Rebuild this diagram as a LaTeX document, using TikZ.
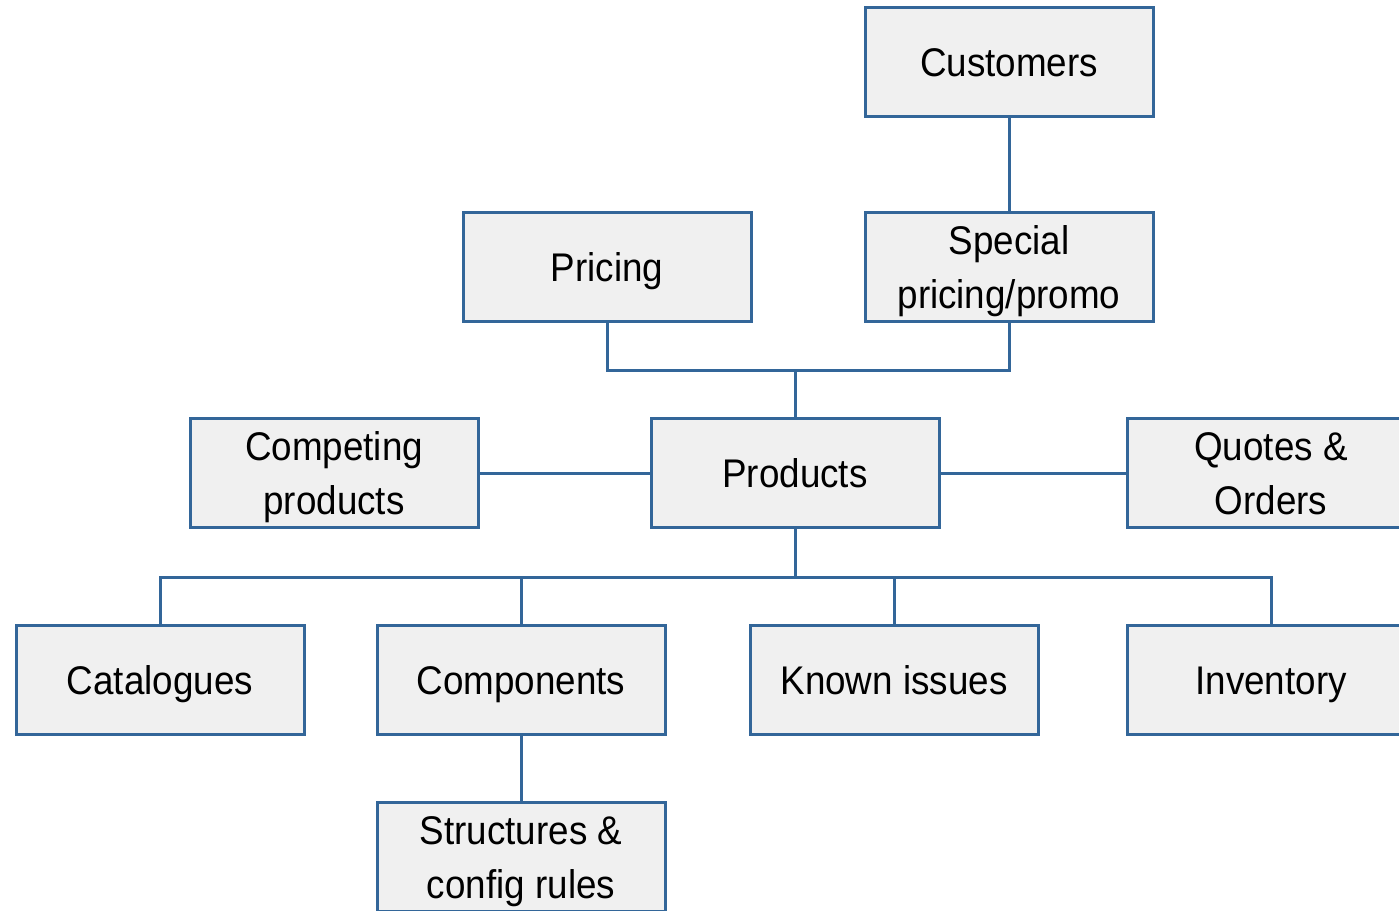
\documentclass[tikz,border=0pt]{standalone}
\usepackage{fontspec}
\setmainfont{Liberation Sans}[FakeStretch=0.92]
\definecolor{boxline}{RGB}{51,102,153}
\definecolor{boxfill}{RGB}{240,240,240}
\begin{document}
\begin{tikzpicture}[x=1pt,y=-1pt,
  box/.style={draw=boxline, fill=boxfill, line width=3pt, rectangle,
    minimum width=288pt, minimum height=109pt, inner sep=0pt,
    text height=29pt, text depth=0pt,
    align=center, font=\fontsize{40}{54}\selectfont},
  twoline/.style={text height=83pt},
  link/.style={draw=boxline, line width=3pt}]
\useasboundingbox (0,0) rectangle (1399,910);
\clip (0,0) rectangle (1399,910);
% boxes
\node[box] (cust) at (1009,62) {Customers};
\node[box,twoline] (spec) at (1009,267) {Special\\pricing/promo};
\node[box] (pric) at (607,267) {Pricing};
\node[box] (prod) at (795,473) {Products};
\node[box,twoline] (comp) at (334,473) {Competing\\products};
\node[box,twoline] (quot) at (1271,473) {Quotes \&\\Orders};
\node[box] (cata) at (160,680) {Catalogues};
\node[box] (cmpn) at (521,680) {Components};
\node[box] (know) at (894,680) {Known issues};
\node[box] (inve) at (1271,680) {Inventory};
\node[box,twoline] (strc) at (521,857) {Structures \&\\config rules};
% junction levels
\coordinate (upbus) at (0,370);
\coordinate (lobus) at (0,577);
% connectors
\draw[link] (cust.south) -- (spec.north);
\draw[link] (pric.south) |- (upbus -| spec.south) -- (spec.south);
\draw[link] (prod.north) -- (upbus -| prod.north);
\draw[link] (comp.east) -- (prod.west);
\draw[link] (prod.east) -- (quot.west);
\draw[link] (prod.south) -- (lobus -| prod.south);
\draw[link] (cata.north) |- (lobus -| inve.north) -- (inve.north);
\draw[link] (cmpn.north) -- (lobus -| cmpn.north);
\draw[link] (know.north) -- (lobus -| know.north);
\draw[link] (cmpn.south) -- (strc.north);
\end{tikzpicture}
\end{document}
